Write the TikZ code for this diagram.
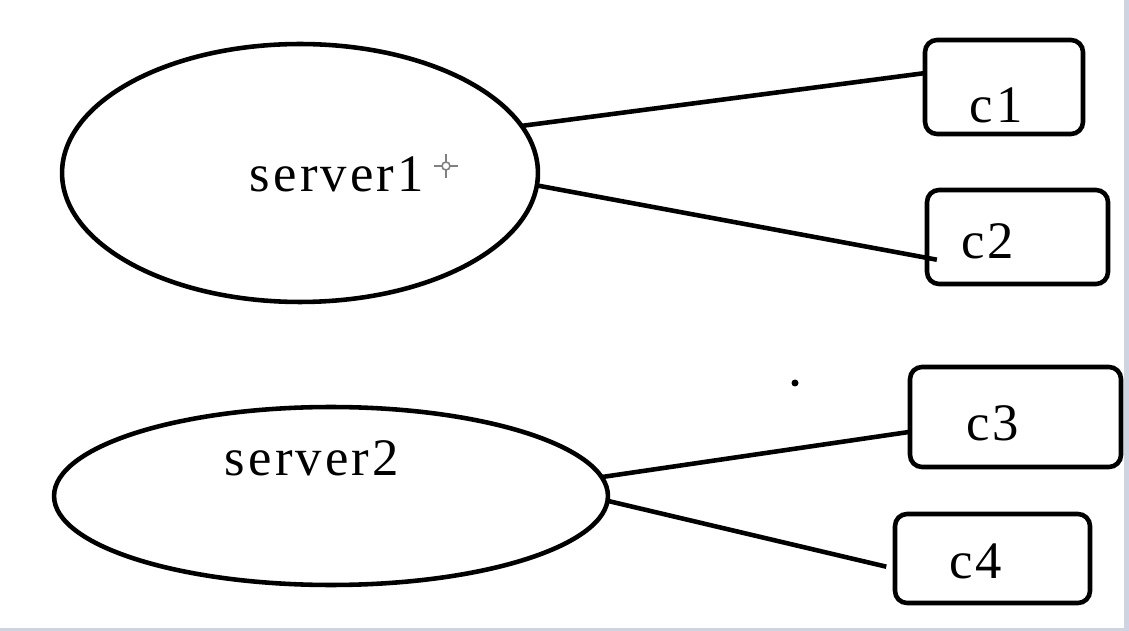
\documentclass[tikz,border=0pt]{standalone}
\usepackage{fontspec}
\setmainfont{Liberation Serif}[LetterSpace=6]
\usetikzlibrary{shapes.geometric,calc}
\definecolor{framegray}{RGB}{205,213,226}

\begin{document}
\begin{tikzpicture}[x=0.02cm, y=-0.02cm, line width=2.6pt,
  srv/.style={draw, ellipse, inner sep=0pt, outer sep=0pt},
  cbox/.style={draw, rounded corners=0.24cm, inner sep=0pt, outer sep=0pt},
  lbl/.style={font=\fontsize{30}{32}\selectfont, anchor=base, inner sep=0pt}]
\useasboundingbox (0,0) rectangle (1129,631);
% window frame
\fill[framegray] (1124,0) rectangle (1129,631);
\fill[framegray] (0,628) rectangle (1129,631);
% servers
\node[srv, minimum width=9.52cm, minimum height=5.16cm] (s1) at (300,173) {};
\node[srv, minimum width=11.08cm, minimum height=3.56cm] (s2) at (331,496) {};
\node[lbl] (s1txt) at (337,192) {server1};
\node[lbl] (s2txt) at (312,475) {server2};
% clients
\node[cbox, minimum width=3.16cm, minimum height=1.88cm] (c1) at (1004,87) {};
\node[cbox, minimum width=3.62cm, minimum height=1.88cm] (c2) at (1017.5,237) {};
\node[cbox, minimum width=4.22cm, minimum height=2.0cm] (c3) at (1015.5,417) {};
\node[cbox, minimum width=3.9cm, minimum height=1.78cm] (c4) at (992.5,558.5) {};
\node[lbl] (c1txt) at (996,123) {c1};
\node[lbl] (c2txt) at (987.5,259) {c2};
\node[lbl] (c3txt) at (992.5,440) {c3};
\node[lbl] (c4txt) at (975.5,578) {c4};
% links
\draw (s1.12.6) -- (c1.170);
\draw[shorten >=-0.2cm] (s1.-3) -- (c2.193);
\draw (s2.4.2) -- (c3.188);
\draw[shorten >=0.18cm] (s2.-1) -- (c4.186);
% stray marks
\fill (795,383) circle (0.07cm);
\begin{scope}[gray, line width=0.9pt]
\draw (446,154) -- (446,178) (434,166) -- (458,166);
\draw[fill=white] (446,166) circle (0.08cm);
\end{scope}
\end{tikzpicture}
\end{document}
